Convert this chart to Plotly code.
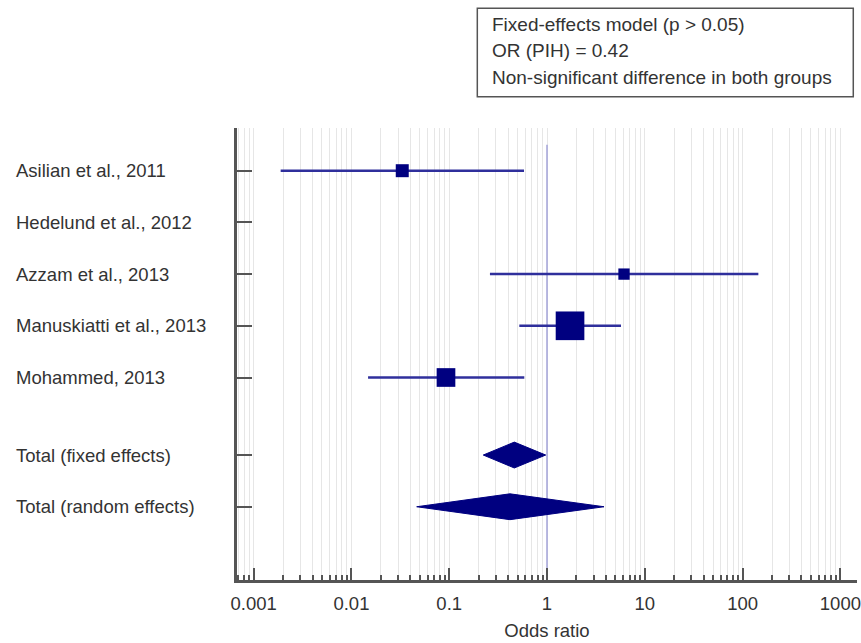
import plotly.graph_objects as go
import math

# ---- data ----
studies = ["Asilian et al., 2011", "Hedelund et al., 2012", "Azzam et al., 2013",
           "Manuskiatti et al., 2013", "Mohammed, 2013"]
odds_ratio = [0.0331, None, 6.13, 1.72, 0.0927]
ci_low = [0.00189, None, 0.261, 0.521, 0.0148]
ci_high = [0.582, None, 145.0, 5.71, 0.586]
weight_pct = [11.5, None, 8.7, 56.0, 23.8]

summary_labels = ["Total (fixed effects)", "Total (random effects)"]
summary_or = [0.463, 0.418]
summary_low = [0.223, 0.0465]
summary_high = [0.970, 3.83]

tick_vals = [0.001, 0.01, 0.1, 1, 10, 100, 1000]
tick_text = ["0.001", "0.01", "0.1", "1", "10", "100", "1000"]

box_lines = ["Fixed-effects model (p > 0.05)", "OR (PIH) = 0.42",
             "Non-significant difference in both groups"]

# ---- styling ----
FONT = "Liberation Sans, Arial, sans-serif"
NAVY = "#000080"
CI_COL = "#2f2f9c"
AX_COL = "#555555"
GRID_COL = "#e6e6e6"
TXT_COL = "#333333"

n = len(studies)
study_y = list(range(n))
summary_y = [n + 0.5, n + 1.5]
all_y = study_y + summary_y
all_labels = studies + summary_labels

fig = go.Figure()

# reference line at OR = 1
fig.add_trace(go.Scatter(x=[1, 1], y=[-0.5, 7.95], mode="lines",
                         line=dict(color="#a3a3d8", width=1.5),
                         hoverinfo="skip", showlegend=False))

# CI lines
for i in range(n):
    if odds_ratio[i] is None:
        continue
    fig.add_trace(go.Scatter(x=[ci_low[i], ci_high[i]], y=[study_y[i], study_y[i]],
                             mode="lines", line=dict(color=CI_COL, width=2.5),
                             hoverinfo="skip", showlegend=False))

# point estimates (square size ~ sqrt(weight))
xs, ys, sz = [], [], []
for i in range(n):
    if odds_ratio[i] is None:
        continue
    xs.append(odds_ratio[i])
    ys.append(study_y[i])
    sz.append(3.83 * math.sqrt(weight_pct[i]))
fig.add_trace(go.Scatter(x=xs, y=ys, mode="markers",
                         marker=dict(symbol="square", size=sz, color=NAVY,
                                     opacity=1, line=dict(width=0)),
                         showlegend=False))

# summary diamonds
half_h = 0.25
for j in range(len(summary_or)):
    yc = summary_y[j]
    fig.add_trace(go.Scatter(
        x=[summary_low[j], summary_or[j], summary_high[j], summary_or[j], summary_low[j]],
        y=[yc, yc - half_h, yc, yc + half_h, yc],
        mode="lines", fill="toself", fillcolor=NAVY,
        line=dict(color=NAVY, width=1), hoverinfo="skip", showlegend=False))

# row labels (left aligned)
annotations = []
for lab, yv in zip(all_labels, all_y):
    annotations.append(dict(text=lab, xref="paper", yref="y", x=-0.3597, y=yv,
                            xanchor="left", yanchor="middle", showarrow=False,
                            font=dict(family=FONT, size=18.5, color=TXT_COL)))

# info box text, one line each
box_y = [1.2279, 1.1704, 1.1128]
for txt, yv in zip(box_lines, box_y):
    annotations.append(dict(text=txt, xref="paper", yref="paper",
                            x=0.4092, y=yv, xanchor="left", yanchor="middle",
                            align="left", showarrow=False, borderpad=0,
                            font=dict(family=FONT, size=19, color=TXT_COL)))

fig.update_layout(
    width=861, height=643,
    margin=dict(l=237, r=4, t=128, b=63),
    paper_bgcolor="white", plot_bgcolor="white",
    font=dict(family=FONT, size=18.5, color=TXT_COL),
    annotations=annotations,
    shapes=[dict(type="rect", xref="paper", yref="paper",
                 x0=0.3876, x1=0.9940, y0=1.069, y1=1.265,
                 line=dict(color="#555555", width=1.5), fillcolor="rgba(0,0,0,0)")],
    xaxis=dict(type="log", range=[-3.17, 3.17],
               tickmode="array", tickvals=tick_vals, ticktext=tick_text,
               ticks="inside", ticklen=12, tickwidth=2, tickcolor=AX_COL,
               showline=True, linecolor=AX_COL, linewidth=2.5,
               showgrid=True, gridcolor=GRID_COL, gridwidth=1,
               ticklabelstandoff=5,
               tickfont=dict(family=FONT, size=18.5, color=TXT_COL),
               minor=dict(dtick="D1", ticks="inside", ticklen=5, tickwidth=1.5,
                          tickcolor=AX_COL, showgrid=True, gridcolor=GRID_COL,
                          gridwidth=1),
               title=dict(text="Odds ratio", standoff=12,
                          font=dict(family=FONT, size=18.5, color=TXT_COL)),
               zeroline=False, fixedrange=True, automargin=False),
    yaxis=dict(range=[7.917, -0.826], tickmode="array", tickvals=all_y,
               showticklabels=False, ticks="inside", ticklen=15, tickwidth=2,
               tickcolor=AX_COL, showline=True, linecolor=AX_COL, linewidth=2.5,
               showgrid=False, zeroline=False, fixedrange=True, automargin=False),
)

fig.write_html("out.html", config={"displayModeBar": False},
               post_script="document.body.style.margin='0px';"
                           "document.body.style.overflow='hidden';")
